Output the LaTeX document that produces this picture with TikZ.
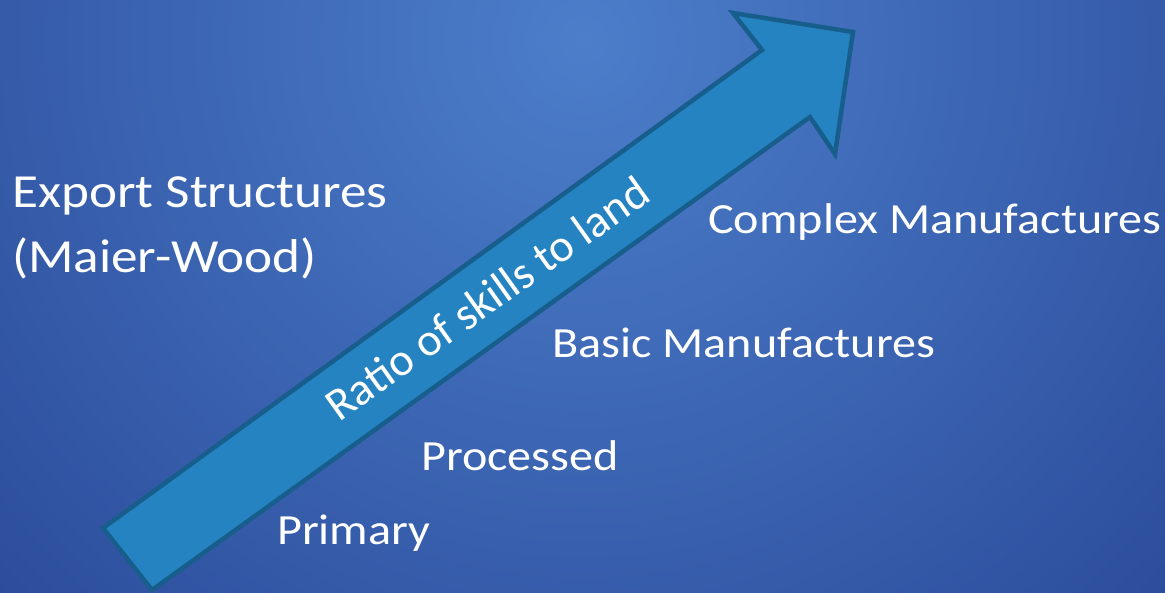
\documentclass[tikz,border=0pt]{standalone}
\usepackage{fontspec}
\setmainfont{Carlito}
\definecolor{bglight}{RGB}{76,126,202}
\definecolor{bgdark}{RGB}{30,56,136}
\definecolor{arrowfill}{RGB}{38,131,193}
\definecolor{arrowline}{RGB}{24,94,140}
\begin{document}
\begin{tikzpicture}[x=1pt,y=-1pt,
  lbl/.style={text=white,anchor=base west,inner sep=0pt,xscale=1.12,font=\fontsize{43}{52}\selectfont},
  ttl/.style={text=white,anchor=base west,inner sep=0pt,xscale=1.12,font=\fontsize{47.5}{57}\selectfont},
  arrowtxt/.style={text=white,inner sep=0pt,font=\fontsize{46}{52}\selectfont}]
\useasboundingbox (0,0) rectangle (1165,592);
\fill[bgdark] (0,0) rectangle (1165,592);
\begin{scope}
\clip (0,0) rectangle (1165,592);
\shade[inner color=bglight, outer color=bgdark] (583,40) circle (1150);
\end{scope}
% arrow
\coordinate (bl) at (103,528);
\coordinate (br) at (152,590);
\coordinate (n2) at (810,117);
\coordinate (t3) at (835,154);
\coordinate (t2) at (853,32);
\coordinate (t1) at (733,13);
\coordinate (n1) at (762,50);
\filldraw[fill=arrowfill, draw=arrowline, line width=4.5pt, line join=miter]
  (bl) -- (br) -- (n2) -- (t3) -- (t2) -- (t1) -- (n1) -- cycle;
\node[arrowtxt, rotate=35.5] (ratio) at (487,298) {Ratio of skills to land};
% labels
\node[ttl] (export) at (12,207) {Export Structures};
\node[ttl] (maier) at (12,272) {(Maier-Wood)};
\node[lbl] (complex) at (708,233) {Complex Manufactures};
\node[lbl] (basic) at (552,357) {Basic Manufactures};
\node[lbl] (processed) at (421,470) {Processed};
\node[lbl] (primary) at (277,544) {Primary};
\end{tikzpicture}
\end{document}
